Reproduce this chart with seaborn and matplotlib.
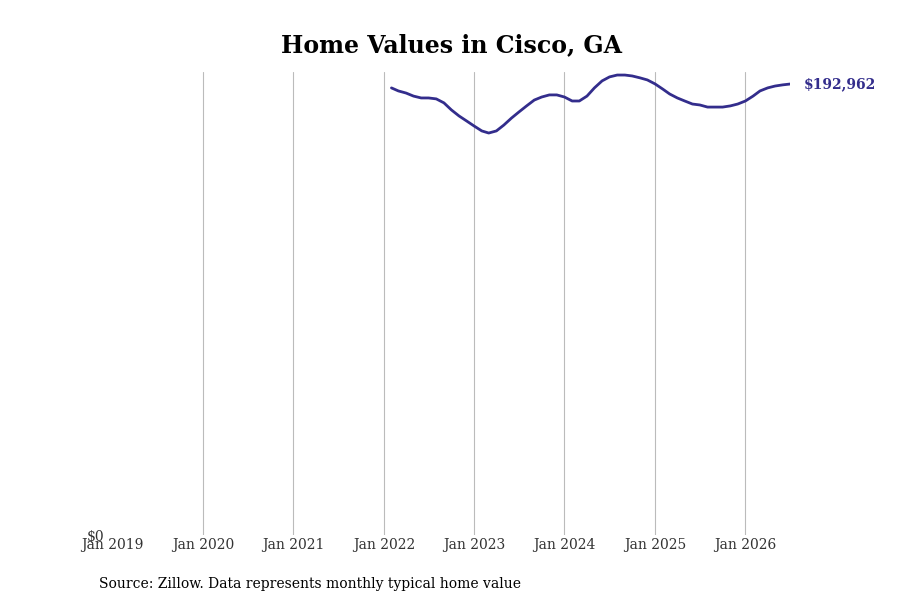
import matplotlib
matplotlib.use("Agg")
import matplotlib.pyplot as plt
import matplotlib.dates as mdates
import seaborn as sns
import pandas as pd

# Monthly typical home value, Feb 2022 - Jul 2026
values = [
    191300, 190000, 189100, 187800, 187000, 187000, 186600, 184900, 181900, 179300, 177200,
    175000, 172900, 172000, 172900, 175400, 178400, 181000, 183600, 186100, 187400, 188300, 188300,
    187400, 185700, 185700, 187800, 191300, 194300, 196000, 196800, 196800, 196400, 195600, 194700,
    193000, 190800, 188700, 187000, 185700, 184400, 184000, 183100, 183100, 183100, 183600, 184400,
    185700, 187800, 190000, 191300, 192100, 192600, 192962,
]
dates = pd.date_range("2022-02-01", periods=len(values), freq="MS")
df = pd.DataFrame({"date": dates, "value": values})

color = "#332d8c"

sns.set_theme(style="white")
plt.rcParams["font.family"] = ["DejaVu Serif"]

fig, ax = plt.subplots(figsize=(9, 6), dpi=100)
fig.subplots_adjust(left=0.125, right=0.878, top=0.88, bottom=0.108)

sns.lineplot(data=df, x="date", y="value", ax=ax, color=color, linewidth=2)

ax.set_xlim(pd.Timestamp("2019-01-01"), df["date"].iloc[-1])
ax.set_ylim(0, 198100)
ax.xaxis.set_major_locator(mdates.YearLocator())
ax.xaxis.set_major_formatter(mdates.DateFormatter("Jan %Y"))
ax.set_yticks([0])
ax.set_yticklabels(["$0"])
ax.tick_params(axis="both", length=0, labelsize=10, colors="#333333", pad=2)
ax.tick_params(axis="y", pad=6)
ax.grid(axis="x", color="#bbbbbb", linewidth=0.8)
ax.grid(axis="y", visible=False)
ax.get_xgridlines()[0].set_visible(False)
for s in ax.spines.values():
    s.set_visible(False)
ax.set_xlabel("")
ax.set_ylabel("")
ax.set_title("Home Values in Cisco, GA", fontsize=17, fontweight="bold", pad=14, color="black")

ax.annotate(f"${values[-1]:,}", xy=(df["date"].iloc[-1], values[-1]), xytext=(10, 0),
            textcoords="offset points", va="center", ha="left", color=color,
            fontsize=10, fontweight="bold", annotation_clip=False)

fig.text(0.11, 0.02, "Source: Zillow. Data represents monthly typical home value",
         fontsize=10, color="black")

fig.savefig("out.png", dpi=100)
